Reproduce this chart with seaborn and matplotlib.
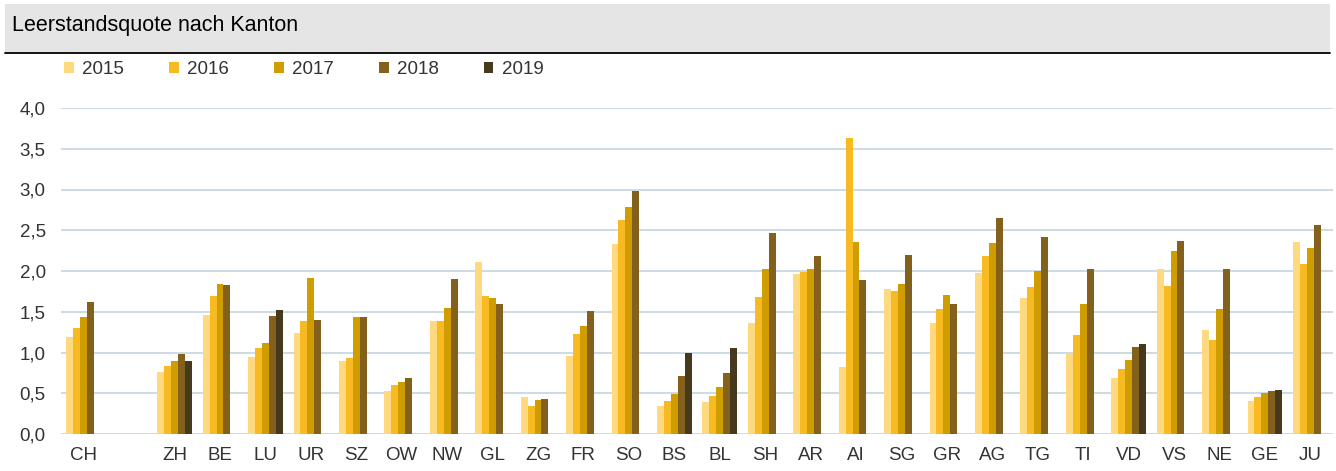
import numpy as np
import pandas as pd
import matplotlib
matplotlib.use("Agg")
import matplotlib.pyplot as plt
from matplotlib.patches import Patch, Rectangle
from matplotlib.lines import Line2D
from matplotlib.ticker import FuncFormatter
import seaborn as sns

title = "Leerstandsquote nach Kanton"
categories = ["CH", "", "ZH", "BE", "LU", "UR", "SZ", "OW", "NW", "GL", "ZG", "FR", "SO",
              "BS", "BL", "SH", "AR", "AI", "SG", "GR", "AG", "TG", "TI", "VD", "VS", "NE", "GE", "JU"]
years = ["2015", "2016", "2017", "2018", "2019"]
nan = np.nan
v2015 = [1.19, nan, 0.76, 1.46, 0.94, 1.24, 0.89, 0.53, 1.39, 2.11, 0.46, 0.96, 2.33,
         0.34, 0.39, 1.36, 1.96, 0.82, 1.78, 1.36, 1.98, 1.67, 1.00, 0.69, 2.03, 1.28, 0.41, 2.35]
v2016 = [1.30, nan, 0.83, 1.69, 1.06, 1.39, 0.93, 0.60, 1.39, 1.69, 0.34, 1.23, 2.62,
         0.41, 0.47, 1.68, 1.99, 3.63, 1.76, 1.53, 2.18, 1.80, 1.21, 0.80, 1.81, 1.15, 0.45, 2.09]
v2017 = [1.44, nan, 0.89, 1.84, 1.12, 1.91, 1.44, 0.64, 1.54, 1.67, 0.42, 1.33, 2.79,
         0.49, 0.58, 2.03, 2.02, 2.35, 1.84, 1.71, 2.34, 2.00, 1.59, 0.91, 2.24, 1.53, 0.50, 2.28]
v2018 = [1.62, nan, 0.98, 1.83, 1.45, 1.40, 1.43, 0.69, 1.90, 1.60, 0.43, 1.51, 2.98,
         0.71, 0.75, 2.47, 2.18, 1.89, 2.20, 1.59, 2.65, 2.42, 2.02, 1.07, 2.37, 2.03, 0.53, 2.56]
v2019 = [nan, nan, 0.89, nan, 1.52, nan, nan, nan, nan, nan, nan, nan, nan,
         1.00, 1.06, nan, nan, nan, nan, nan, nan, nan, nan, 1.11, nan, nan, 0.54, nan]
colors = ["#FFD97F", "#F8BA22", "#CF9D00", "#83601B", "#47391E"]
yticks = [0.0, 0.5, 1.0, 1.5, 2.0, 2.5, 3.0, 3.5, 4.0]

rows = []
for yr, vals in zip(years, [v2015, v2016, v2017, v2018, v2019]):
    for c, v in zip(categories, vals):
        rows.append({"Kanton": c, "Jahr": yr, "Wert": v})
df = pd.DataFrame(rows)

sns.set_theme(style="white")
plt.rcParams["font.family"] = ["Liberation Sans", "DejaVu Sans"]

W, H = 1336, 471
fig = plt.figure(figsize=(W / 100, H / 100), dpi=100)
ax = fig.add_axes([61 / W, (H - 434) / H, (1333 - 61) / W, (434 - 108) / H])

sns.barplot(data=df, x="Kanton", y="Wert", hue="Jahr", order=categories, hue_order=years,
            palette=colors, width=0.76, errorbar=None, ax=ax, linewidth=0, saturation=1)
if ax.get_legend() is not None:
    ax.get_legend().remove()

ax.set_ylim(0, 4)
ax.set_xlim(-0.5, len(categories) - 0.5)
ax.set_yticks(yticks)
ax.yaxis.set_major_formatter(FuncFormatter(lambda v, p: f"{v:.1f}".replace(".", ",")))
ax.grid(axis="y", color="#C4D5DE", linewidth=1.2)
ax.set_axisbelow(True)
for s in ax.spines.values():
    s.set_visible(False)
ax.set_xlabel("")
ax.set_ylabel("")
ax.tick_params(axis="both", length=0, labelsize=13.5, labelcolor="#333333")
ax.tick_params(axis="y", pad=11)
ax.tick_params(axis="x", pad=9)

# Title bar
fig.patches.append(Rectangle((5 / W, (H - 53) / H), (1330 - 5) / W, 49 / H,
                             transform=fig.transFigure, facecolor="#E5E5E5", edgecolor="none", zorder=0))
fig.lines.append(Line2D([5 / W, 1330 / W], [(H - 53) / H, (H - 53) / H], transform=fig.transFigure,
                        color="black", linewidth=1.3))
fig.text(12 / W, (H - 26) / H, title, fontsize=15.5, color="black", va="center", ha="left")

handles = [Patch(facecolor=c, edgecolor="none", label=y) for c, y in zip(colors, years)]
fig.legend(handles=handles, loc="center left", bbox_to_anchor=(64 / W, (H - 70) / H), ncol=5,
           frameon=False, fontsize=13.5, handlelength=0.53, handleheight=0.53, handletextpad=0.45,
           columnspacing=2.38, labelcolor="#333333", borderaxespad=0, borderpad=0)

fig.savefig("out.png", dpi=100)
